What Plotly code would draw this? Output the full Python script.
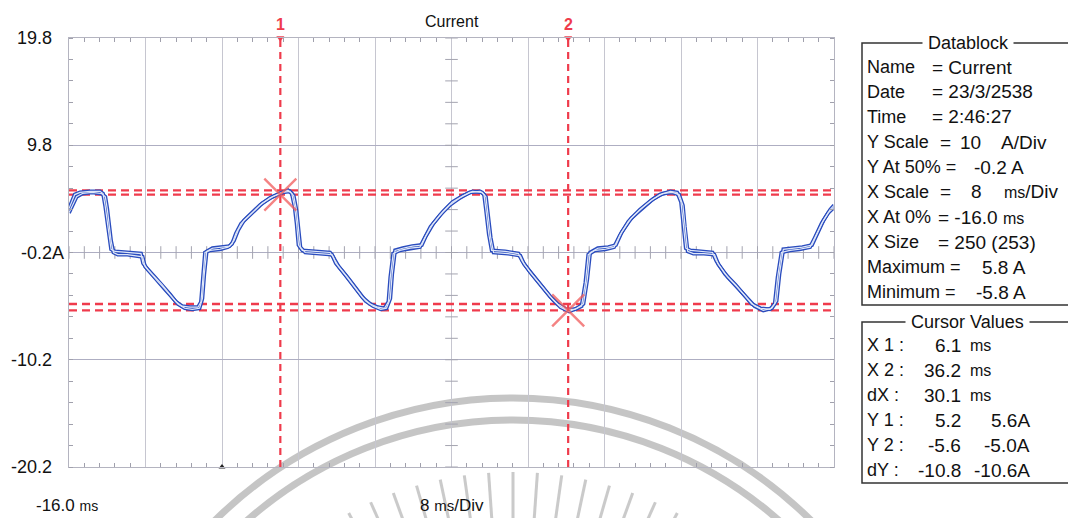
import numpy as np
import plotly.graph_objects as go

# ---------------- data ----------------
t_a = [-16.0, -15.7, -15.4, -14.85, -13.8, -12.76, -12.44, -12.23, -12.03, -11.82,
       -11.6, -11.19, -10.14, -9.1, -8.47, -8.26, -7.74, -7.0, -6.27, -5.44,
       -4.81, -4.18, -3.35, -2.51, -2.2, -1.99, -1.78, -1.25, -0.21, 0.63,
       1.05, 1.46, 1.99, 2.93, 3.97, 5.02, 6.07, 6.9, 7.3, 7.6,
       7.8, 8.0, 8.4, 9.7, 11.3, 11.6, 11.9, 12.9, 13.9, 14.7,
       15.5, 16.3, 17.0, 17.4, 17.6, 17.9, 18.6, 19.7, 20.7, 21.1,
       21.8, 22.8, 23.8, 24.9, 25.9, 27.0, 27.4, 27.6, 27.9, 28.2,
       29.6, 31.0, 31.4, 32.2, 33.3, 34.3, 35.1, 36.0, 36.9, 37.6,
       38.0, 38.3, 39.0, 40.1, 41.0, 41.6, 42.5, 43.7, 44.8, 45.8,
       46.9, 47.6, 48.0, 48.2, 48.5, 49.0, 50.1, 51.3, 51.7, 52.6,
       53.7, 54.7, 55.4, 56.3, 57.3, 57.8, 58.1, 58.5, 59.4, 60.4,
       61.5, 62.0, 62.7, 63.4, 64.0]
i_a = [3.9, 4.5, 5.2, 5.4, 5.5, 5.5, 5.3, 4.2, 2.8, 1.2,
       0.1, -0.1, -0.2, -0.3, -0.3, -1.2, -1.8, -2.5, -3.2, -4.1,
       -4.8, -5.2, -5.3, -5.3, -4.8, -2.5, -0.2, 0.0, 0.1, 0.3,
       0.6, 1.6, 2.5, 3.3, 4.2, 4.9, 5.3, 5.6, 5.3, 4.0,
       2.5, 0.5, 0.0, -0.1, -0.2, -0.6, -1.2, -2.3, -3.5, -4.4,
       -5.0, -5.3, -5.4, -4.8, -2.5, -0.3, 0.0, 0.2, 0.3, 1.0,
       2.2, 3.3, 4.2, 4.9, 5.4, 5.5, 5.2, 3.8, 1.5, 0.0,
       -0.1, -0.3, -1.0, -2.0, -3.2, -4.3, -5.0, -5.5, -5.5, -5.2,
       -3.0, -0.4, 0.0, 0.1, 0.3, 1.4, 2.7, 3.8, 4.6, 5.2,
       5.5, 5.4, 4.5, 2.5, 0.2, 0.0, -0.1, -0.2, -1.0, -2.2,
       -3.2, -4.3, -5.0, -5.4, -5.5, -5.0, -2.5, -0.2, 0.0, 0.1,
       0.3, 1.2, 2.5, 3.5, 4.0]

t_b = [-16.0, -15.6, -15.2, -14.6, -13.6, -12.6, -12.2, -12.0, -11.8, -11.6,
       -11.35, -10.9, -9.9, -8.9, -8.3, -8.05, -7.5, -6.8, -6.0, -5.2,
       -4.6, -3.9, -3.1, -2.35, -2.05, -1.85, -1.6, -1.0, 0.0, 0.8,
       1.25, 1.7, 2.3, 3.2, 4.2, 5.3, 6.3, 7.1, 7.5, 7.8,
       8.0, 8.2, 8.7, 10.0, 11.5, 11.8, 12.2, 13.2, 14.2, 15.0,
       15.8, 16.6, 17.2, 17.6, 17.8, 18.1, 18.9, 19.9, 20.9, 21.3,
       22.1, 23.1, 24.1, 25.2, 26.2, 27.2, 27.6, 27.8, 28.1, 28.4,
       29.9, 31.2, 31.6, 32.5, 33.6, 34.6, 35.4, 36.3, 37.1, 37.8,
       38.2, 38.5, 39.3, 40.4, 41.2, 41.8, 42.8, 44.0, 45.1, 46.1,
       47.1, 47.8, 48.2, 48.4, 48.7, 49.3, 50.4, 51.5, 51.9, 52.9,
       54.0, 55.0, 55.7, 56.6, 57.5, 58.0, 58.3, 58.7, 59.7, 60.7,
       61.7, 62.2, 62.9, 63.6, 64.0]
i_b = [3.5, 4.2, 5.0, 5.3, 5.4, 5.3, 5.0, 3.9, 2.4, 0.9,
       -0.2, -0.4, -0.4, -0.5, -0.6, -1.5, -2.1, -2.8, -3.6, -4.4,
       -5.0, -5.4, -5.5, -5.4, -4.5, -2.2, -0.1, 0.2, 0.3, 0.4,
       0.9, 1.9, 2.8, 3.6, 4.4, 5.0, 5.4, 5.5, 5.1, 3.7,
       2.1, 0.3, -0.2, -0.3, -0.4, -0.9, -1.5, -2.6, -3.8, -4.7,
       -5.2, -5.5, -5.4, -4.5, -2.2, 0.0, 0.2, 0.4, 0.5, 1.3,
       2.5, 3.6, 4.5, 5.1, 5.5, 5.4, 5.0, 3.5, 1.2, -0.2,
       -0.3, -0.5, -1.3, -2.3, -3.5, -4.6, -5.3, -5.7, -5.4, -5.0,
       -2.7, -0.2, 0.2, 0.3, 0.5, 1.7, 3.0, 4.0, 4.8, 5.3,
       5.4, 5.2, 4.2, 2.2, -0.1, -0.3, -0.3, -0.4, -1.3, -2.5,
       -3.6, -4.6, -5.2, -5.6, -5.4, -4.7, -2.2, 0.1, 0.2, 0.3,
       0.5, 1.5, 2.8, 3.8, 4.2]

x_min, x_max, x_div = -16.0, 64.0, 8.0
y_min, y_max, y_div = -20.2, 19.8, 10.0
y_center = -0.2
x_center = 24.0
y_tick_vals = [19.8, 9.8, -0.2, -10.2, -20.2]
y_tick_text = ["19.8", "9.8", "-0.2A", "-10.2", "-20.2"]

cursor_x = [6.1, 36.2]
cursor_names = ["1", "2"]
cursor_y1 = [5.2, 5.6]
cursor_y2 = [-5.6, -5.0]
trigger_t = 0.0

MS = "<span style='font-size:16px'>ms</span>"
datablock_labels = ["Name", "Date", "Time", "Y Scale", "Y At 50% =", "X Scale",
                    "X At 0%", "X Size", "Maximum =", "Minimum ="]
datablock_values = [
    [("= Current", 930)],
    [("= 23/3/2538", 930)],
    [("= 2:46:27", 930)],
    [("=", 938), ("10", 958), ("A/Div", 999)],
    [("-0.2 A", 972)],
    [("=", 938), ("8", 969), (MS + "/Div", 1002)],
    [("= -16.0 " + MS, 936)],
    [("= 250 (253)", 936)],
    [("5.8 A", 980)],
    [("-5.8 A", 974)],
]
cursor_labels = ["X 1 :", "X 2 :", "dX :", "Y 1 :", "Y 2 :", "dY :"]
cursor_col1 = ["6.1", "36.2", "30.1", "5.2", "-5.6", "-10.8"]
cursor_col2 = ["ms", "ms", "ms", "5.6A", "-5.0A", "-10.6A"]

# ---------------- layout helpers (pixel -> paper) ----------------
W, H = 1068, 518
PL, PR, PT, PB = 69, 834, 38, 467


def px(x):
    return (x - PL) / (PR - PL)


def py(y):
    return (PB - y) / (PB - PT)


FONT = "Liberation Sans, Arial, sans-serif"
RED = "#ef3b4c"
BLUE = "#2a4cbe"
TXT = "#111"

fig = go.Figure()

# centre-line cross ticks
xt = np.arange(x_min, x_max + 1e-9, x_div / 5)
yt = np.arange(y_min, y_max + 1e-9, y_div / 5)
fig.add_trace(go.Scatter(x=xt, y=[y_center] * len(xt), mode="markers",
                         marker=dict(symbol="line-ns", size=9, line=dict(color="#a4a4b0", width=1)),
                         hoverinfo="skip", showlegend=False))
fig.add_trace(go.Scatter(x=[x_center] * len(yt), y=yt, mode="markers",
                         marker=dict(symbol="line-ew", size=9, line=dict(color="#a4a4b0", width=1)),
                         hoverinfo="skip", showlegend=False))

# cursor horizontal lines
for yv in cursor_y1 + cursor_y2:
    fig.add_trace(go.Scatter(x=[x_min, x_max], y=[yv, yv], mode="lines",
                             line=dict(color=RED, width=2.3, dash="8px,5px"),
                             hoverinfo="skip", showlegend=False))

# waveform traces (tube look)
for tt, ii in ((t_a, i_a), (t_b, i_b)):
    fig.add_trace(go.Scatter(x=tt, y=ii, mode="lines", line=dict(color=BLUE, width=3.8),
                             hoverinfo="skip", showlegend=False))
for tt, ii in ((t_a, i_a), (t_b, i_b)):
    fig.add_trace(go.Scatter(x=tt, y=ii, mode="lines", line=dict(color="#dfe7f8", width=1.2),
                             hoverinfo="skip", showlegend=False))

# cursor vertical lines
for cx in cursor_x:
    fig.add_trace(go.Scatter(x=[cx, cx], y=[y_min, y_max], mode="lines",
                             line=dict(color=RED, width=2.2, dash="7px,5px"),
                             hoverinfo="skip", showlegend=False))
fig.add_trace(go.Scatter(x=cursor_x, y=[y_max] * 2, mode="markers",
                         marker=dict(symbol="triangle-down", size=7, color=RED),
                         cliponaxis=False, hoverinfo="skip", showlegend=False))

# cursor crosses
fig.add_trace(go.Scatter(x=cursor_x, y=[cursor_y1[0], cursor_y2[0]], mode="markers",
                         marker=dict(symbol="x-thin", size=32,
                                     line=dict(color="rgba(240,90,90,0.75)", width=2.4)),
                         cliponaxis=False, hoverinfo="skip", showlegend=False))

# trigger marker
fig.add_trace(go.Scatter(x=[trigger_t], y=[y_min], mode="markers",
                         marker=dict(symbol="triangle-up", size=6, color="#222"),
                         cliponaxis=False, hoverinfo="skip", showlegend=False))

shapes = []
# watermark (seal) arcs and rays
cxp, cyp = 513, 822
for r in (424, 402):
    shapes.append(dict(type="circle", xref="paper", yref="paper", layer="below",
                       x0=px(cxp - r), x1=px(cxp + r), y0=py(cyp + r), y1=py(cyp - r),
                       line=dict(color="rgba(150,150,150,0.55)", width=7)))
for k in range(-8, 9):
    a = np.deg2rad(90 + 4 * k)
    r0, r1 = 296, 350
    shapes.append(dict(type="line", xref="paper", yref="paper", layer="below",
                       x0=px(cxp + r0 * np.cos(a)), y0=py(cyp - r0 * np.sin(a)),
                       x1=px(cxp + r1 * np.cos(a)), y1=py(cyp - r1 * np.sin(a)),
                       line=dict(color="rgba(150,150,150,0.5)", width=3)))

# info boxes
for (top, bot) in ((43, 305), (322, 483)):
    shapes.append(dict(type="rect", xref="paper", yref="paper",
                       x0=px(862), x1=px(1072), y0=py(bot), y1=py(top),
                       line=dict(color="#333", width=1.5), fillcolor="rgba(0,0,0,0)"))
fig.update_layout(shapes=shapes)

ann = []


def text(x, y, s, size, anchor="left", color=TXT, xref="paper", bg=None):
    d = dict(x=x, y=y, xref=xref, yref="paper", text=s, showarrow=False,
             font=dict(size=size, color=color, family=FONT), xanchor=anchor, yanchor="middle")
    if bg:
        d.update(bgcolor=bg, borderpad=0)
    ann.append(d)


# title
text(x_center, py(22), "Current", 16, "center", xref="x")
# y tick labels
for v, txt in zip(y_tick_vals, y_tick_text):
    xr = 66 if txt.endswith("A") else 54
    ann.append(dict(x=px(xr), y=v, xref="paper", yref="y", text=txt, showarrow=False,
                    font=dict(size=18, color=TXT, family=FONT), xanchor="right", yanchor="middle"))
# bottom labels
text(px(34), py(506), "-16.0 <span style='font-size:14px'>ms</span>", 17)
text(x_center, py(506), "8 <span style='font-size:15px'>ms</span>/Div", 17, "center", xref="x")
# cursor names
for cx, nm in zip(cursor_x, cursor_names):
    text(cx, py(24), "<b>" + nm + "</b>", 16, "center", color=RED, xref="x")

# datablock
text(px(968), py(43), " Datablock ", 18, "center", bg="white")
for i, (lab, vals) in enumerate(zip(datablock_labels, datablock_values)):
    yy = 67 + 25 * i
    text(px(865), py(yy), lab, 18)
    for s, xl in vals:
        text(px(xl), py(yy), s, 19)

# cursor values
text(px(967), py(322), " Cursor Values ", 18, "center", bg="white")
for i, (lab, c1, c2) in enumerate(zip(cursor_labels, cursor_col1, cursor_col2)):
    yy = 345 + 25 * i
    text(px(865), py(yy), lab, 18)
    text(px(963), py(yy), c1, 19, "right")
    if c2 == "ms":
        text(px(968), py(yy), c2, 16)
    else:
        text(px(1032), py(yy), c2, 19, "right")

fig.update_layout(
    annotations=ann,
    width=W, height=H,
    margin=dict(l=PL, r=W - PR, t=PT, b=H - PB, pad=0),
    paper_bgcolor="white", plot_bgcolor="rgba(0,0,0,0)",
    showlegend=False,
    xaxis=dict(range=[x_min, x_max], tickmode="linear", tick0=x_min, dtick=x_div,
               showgrid=True, gridcolor="#c6c6d0", gridwidth=1, showticklabels=False, ticks="",
               showline=True, linecolor="#b4b4c0", linewidth=1, mirror="allticks", zeroline=False,
               minor=dict(tickmode="linear", tick0=x_min, dtick=x_div / 5, ticks="inside", ticklen=4,
                          tickcolor="#a0a0ac", tickwidth=1, showgrid=False),
               fixedrange=True),
    yaxis=dict(range=[y_min, y_max], tickmode="array", tickvals=y_tick_vals,
               showgrid=True, gridcolor="#aeaec2", gridwidth=1, showticklabels=False, ticks="",
               showline=True, linecolor="#b4b4c0", linewidth=1, mirror="allticks", zeroline=False,
               minor=dict(tickmode="linear", tick0=y_center, dtick=y_div / 5, ticks="inside", ticklen=4,
                          tickcolor="#a0a0ac", tickwidth=1, showgrid=False),
               fixedrange=True),
)

fig.write_html("out.html", config={"displayModeBar": False},
               post_script="document.body.style.margin='0px';document.body.style.overflow='hidden';")
